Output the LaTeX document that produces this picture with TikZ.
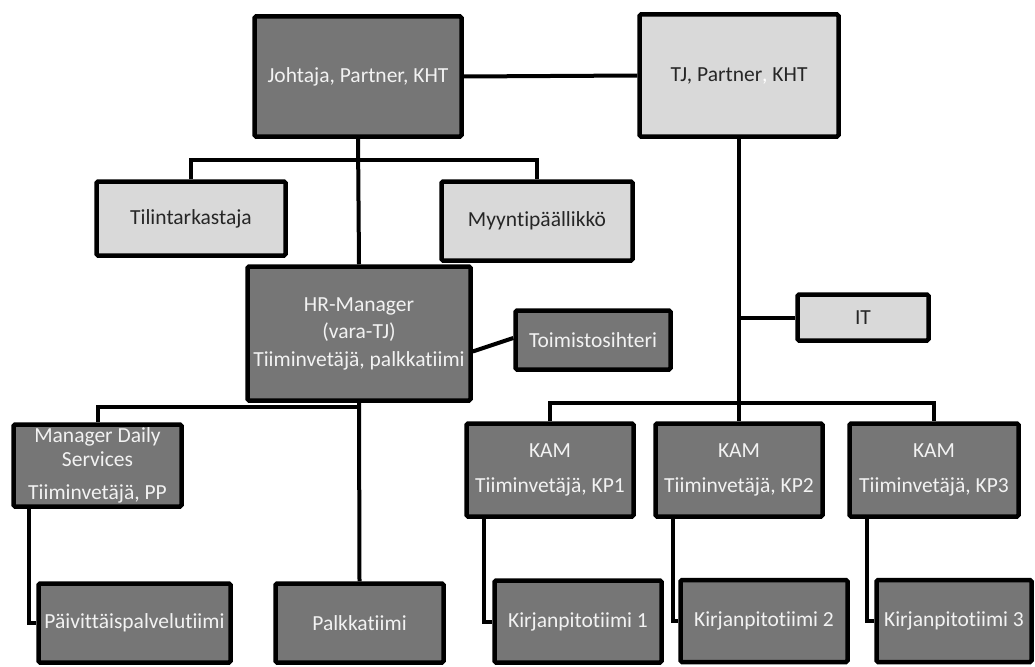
\documentclass[tikz,border=0pt]{standalone}
\usepackage{fontspec}
\setmainfont{Carlito}[Ligatures=CommonOff]
\definecolor{darkfill}{HTML}{767676}
\definecolor{lightfill}{HTML}{D9D9D9}
\tikzset{
  dbox/.style={draw=black, line width=4.5pt, rounded corners=1.5pt, fill=darkfill,
    text=white!95!black, align=center, inner sep=0pt, font=\fontsize{21.5}{26}\selectfont},
  lbox/.style={dbox, fill=lightfill, text=black!85},
  link/.style={line width=4pt}
}

\begin{document}
\begin{tikzpicture}[x=1pt,y=-1pt]
    \useasboundingbox (0,0) rectangle (1035,666);
    \node[dbox, minimum width=207pt, minimum height=120pt] (jht) at (358,76.5) {Johtaja, Partner, KHT};
    \node[lbox, minimum width=199pt, minimum height=122pt] (tj) at (739,75.5) {TJ, Partner{\color{white},} KHT};
    \node[lbox, minimum width=189pt, minimum height=74pt] (tilin) at (191,218.5) {Tilintarkastaja};
    \node[lbox, minimum width=191pt, minimum height=79pt] (myynti) at (537,221) {Myyntipäällikkö};
    \node[dbox, minimum width=223pt, minimum height=134pt] (hr) at (359,333.5) {HR-Manager\\[1.5pt](vara-TJ)\\[1.5pt]Tiiminvetäjä, palkkatiimi};
    \node[dbox, minimum width=155pt, minimum height=59pt] (toim) at (593,340) {Toimistosihteri};
    \node[lbox, minimum width=131pt, minimum height=46pt] (it) at (863,317.5) {IT};
    \node[dbox, minimum width=168pt, minimum height=82pt] (mds) at (97.5,465.5) {Manager Daily\\[-2pt]Services\\[7pt]Tiiminvetäjä, PP};
    \node[dbox, minimum width=192pt, minimum height=79pt] (paiv) at (134.5,623) {Päivittäispalvelutiimi};
    \node[dbox, minimum width=168pt, minimum height=79pt] (palkka) at (359.5,623) {Palkkatiimi};
    \node[dbox, minimum width=167pt, minimum height=93pt] (kam1) at (550,470) {KAM\\[9pt]Tiiminvetäjä, KP1};
    \node[dbox, minimum width=167pt, minimum height=93pt] (kam2) at (739,470) {KAM\\[9pt]Tiiminvetäjä, KP2};
    \node[dbox, minimum width=169pt, minimum height=93pt] (kam3) at (934,470) {KAM\\[9pt]Tiiminvetäjä, KP3};
    \node[dbox, minimum width=167pt, minimum height=82pt] (kp1) at (578,621.5) {Kirjanpitotiimi 1};
    \node[dbox, minimum width=167pt, minimum height=82pt] (kp2) at (764,621) {Kirjanpitotiimi 2};
    \node[dbox, minimum width=155pt, minimum height=82pt] (kp3) at (954,621) {Kirjanpitotiimi 3};
    \coordinate (busA) at (358,160);
    \coordinate (busB) at (739,403);
    \coordinate (busC) at (359,407);
    \draw[link] (jht.east) -- (tj.west);
    \draw[link] (jht.south) -- (hr.north);
    \draw[link] (tilin.north) |- (busA) -| (myynti.north);
    \draw[link] ([yshift=-18pt]hr.east) -- ([yshift=2pt]toim.west);
    \draw[link] (tj.south) -- (kam2.north);
    \draw[link] (it.west) -- (it.west -| tj.south);
    \draw[link] (kam1.north) |- (busB) -| (kam3.north);
    \draw[link] (mds.north) |- (busC);
    \draw[link] (hr.south) -- (palkka.north);
    \draw[link] ([xshift=18pt]mds.south west) |- (paiv.west);
    \draw[link] ([xshift=20pt]kam1.south west) |- (kp1.west);
    \draw[link] ([xshift=20pt]kam2.south west) |- (kp2.west);
    \draw[link] ([xshift=20pt]kam3.south west) |- (kp3.west);
\end{tikzpicture}
\end{document}
